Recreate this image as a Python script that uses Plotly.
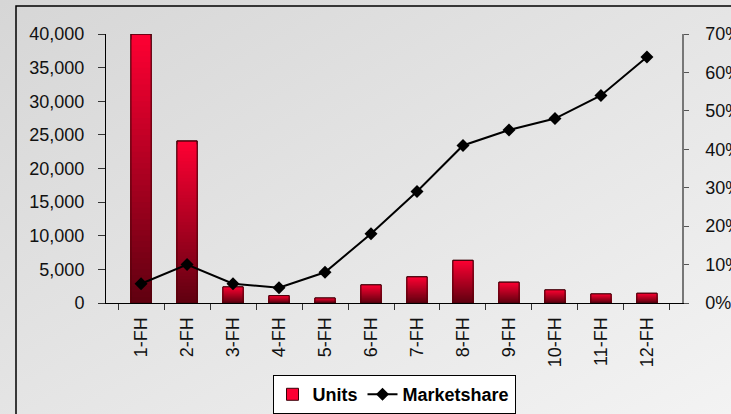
import base64
import plotly.graph_objects as go

# ---- data ----
categories = ["1-FH", "2-FH", "3-FH", "4-FH", "5-FH", "6-FH",
              "7-FH", "8-FH", "9-FH", "10-FH", "11-FH", "12-FH"]
units = [40000, 24100, 2400, 1100, 750, 2700, 3900, 6350, 3100, 1950, 1350, 1450]
marketshare = [0.05, 0.10, 0.05, 0.04, 0.08, 0.18, 0.29, 0.41, 0.45, 0.48, 0.54, 0.64]
units_ticks = list(range(0, 40001, 5000))
share_ticks = [i / 10 for i in range(0, 8)]

FONT = "Arial, Liberation Sans, sans-serif"

fig = go.Figure()

# gradient bars (bright red top -> dark red bottom) via overlaid bars
N = 48
top_c = (255, 0, 51)
bot_c = (95, 0, 16)
for i in range(N):
    k = (N - i) / N
    t = k - 0.5 / N
    c = tuple(int(round(b + (a - b) * t)) for a, b in zip(top_c, bot_c))
    fig.add_trace(go.Bar(
        x=categories, y=[v * k for v in units],
        name="Units", legendgroup="units", showlegend=(i == 0),
        marker=dict(color=f"rgb{c}",
                    line=dict(width=0 if i else 1, color="#3a0008")),
        hoverinfo="skip" if i else None,
        yaxis="y",
    ))
# outline
fig.add_trace(go.Bar(
    x=categories, y=units, showlegend=False, hoverinfo="skip",
    marker=dict(color="rgba(0,0,0,0)", line=dict(color="#4a000a", width=1)),
    yaxis="y",
))

fig.add_trace(go.Scatter(
    x=categories, y=marketshare, name="Marketshare", yaxis="y2",
    mode="lines+markers",
    line=dict(color="black", width=2),
    marker=dict(symbol="diamond", size=10, color="black"),
))

# background gradient
svg = ("<svg xmlns='http://www.w3.org/2000/svg' width='731' height='414'>"
       "<defs><linearGradient id='g' x1='0' y1='0' x2='1' y2='1'>"
       "<stop offset='0' stop-color='#d6d6d6'/>"
       "<stop offset='0.45' stop-color='#e3e3e3'/>"
       "<stop offset='1' stop-color='#f3f3f3'/>"
       "</linearGradient></defs>"
       "<rect width='731' height='414' fill='url(#g)'/></svg>")
src = "data:image/svg+xml;base64," + base64.b64encode(svg.encode()).decode()

PW, PH = 576, 269
fig.update_layout(
    width=731, height=414,
    margin=dict(l=106, r=49, t=34, b=111, pad=0, autoexpand=False),
    barmode="overlay", bargap=0.56,
    paper_bgcolor="#e2e2e2", plot_bgcolor="rgba(0,0,0,0)",
    font=dict(family=FONT, size=18, color="#111"),
    showlegend=True,
    legend=dict(orientation="h", x=0.5, xanchor="center", y=-0.268, yanchor="top",
                bgcolor="white", bordercolor="black", borderwidth=1,
                font=dict(family=FONT, size=18, color="black", weight="bold"),
                itemwidth=30, tracegroupgap=0),
    xaxis=dict(type="category", tickson="boundaries", ticks="outside", ticklen=6,
               tickcolor="#333", showline=True, linecolor="black", linewidth=1,
               tickangle=-90, showgrid=False, zeroline=False, automargin=False,
               ticklabelstandoff=6),
    yaxis=dict(range=[0, 40000], tickvals=units_ticks, tickformat=",",
               ticks="outside", ticklen=7, tickcolor="#333",
               showline=True, linecolor="black", linewidth=1,
               showgrid=False, zeroline=False, automargin=False,
               ticklabelstandoff=10),
    yaxis2=dict(overlaying="y", side="right", range=[0, 0.7], tickvals=share_ticks,
                tickformat=".0%", ticks="outside", ticklen=5, tickcolor="#555",
                showline=True, linecolor="#777", linewidth=1.5,
                showgrid=False, zeroline=False, automargin=False,
                ticklabelstandoff=13),
    images=[dict(source=src, xref="paper", yref="paper",
                 x=-106 / PW, y=1 + 34 / PH, sizex=731 / PW, sizey=414 / PH,
                 xanchor="left", yanchor="top", sizing="stretch", layer="below")],
    shapes=[dict(type="rect", xref="paper", yref="paper",
                 x0=(16 - 106) / PW, x1=(760 - 106) / PW,
                 y0=(303 - 430) / PH, y1=(303 - 6) / PH,
                 line=dict(color="black", width=1.5), fillcolor="rgba(0,0,0,0)",
                 layer="below")],
)

fig.write_html("out.html",
               config={"displayModeBar": False},
               post_script="document.body.style.margin='0';document.body.style.overflow='hidden';")
